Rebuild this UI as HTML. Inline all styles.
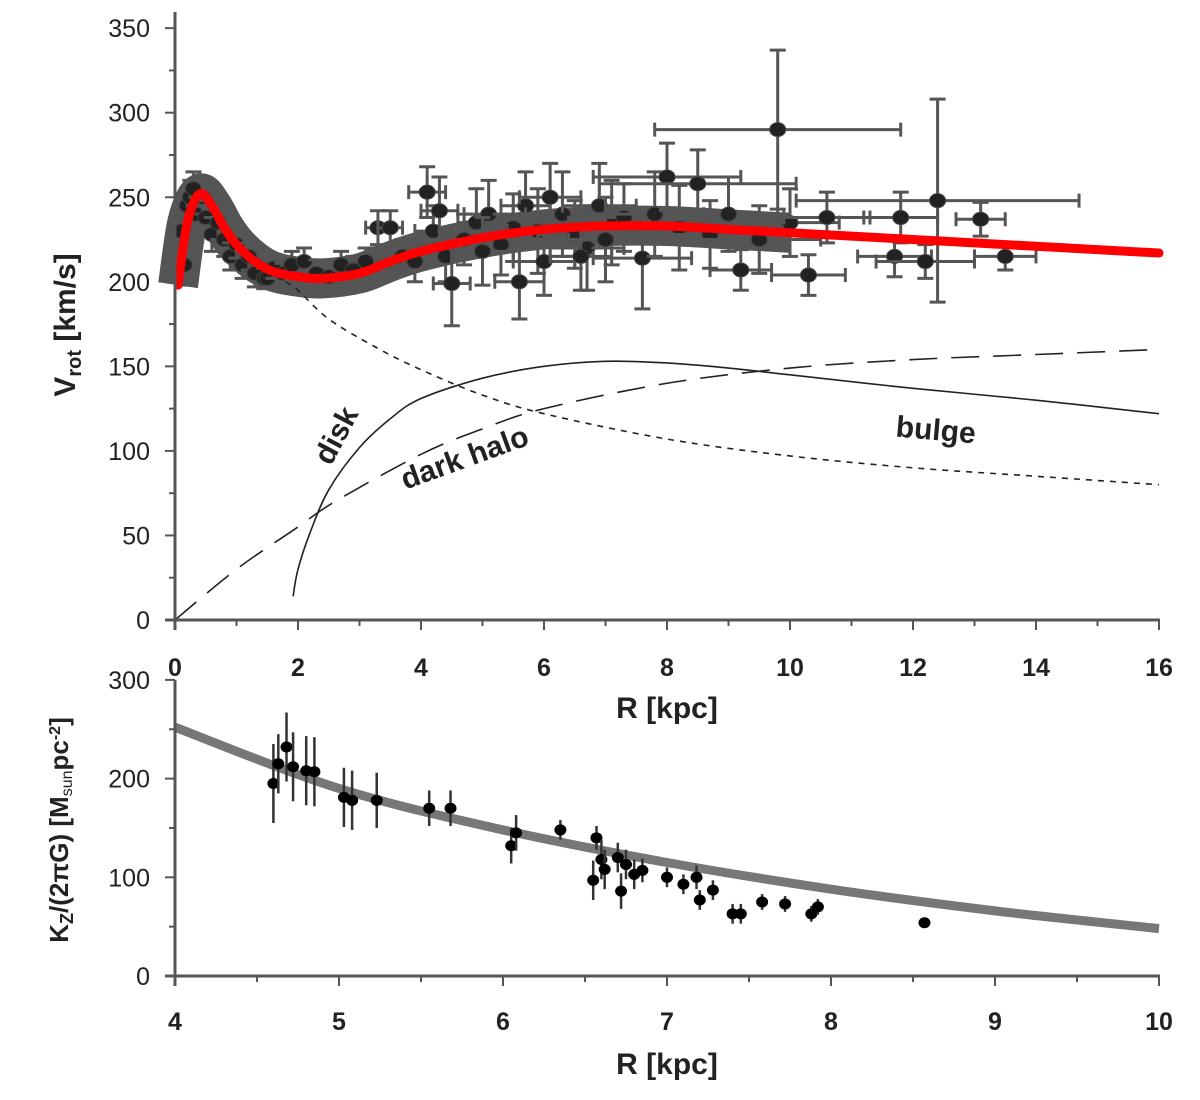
<!DOCTYPE html>
<html><head><meta charset="utf-8"><style>
html,body{margin:0;padding:0;background:#fff;}
svg{display:block;font-family:"Liberation Sans",sans-serif;}
</style></head><body>
<svg id="c" width="1200" height="1100" viewBox="0 0 1200 1100">
<text x="667" y="718" text-anchor="middle" font-size="30" font-weight="bold" fill="#222">R [kpc]</text>
<text x="667" y="1074" text-anchor="middle" font-size="30" font-weight="bold" fill="#222">R [kpc]</text>
<text transform="translate(75,325) rotate(-90)" text-anchor="middle" font-size="30" font-weight="bold" fill="#222">V<tspan font-size="20" dy="6">rot</tspan><tspan dy="-6"> [km/s]</tspan></text>
<text transform="translate(68,830) rotate(-90)" text-anchor="middle" font-size="26" font-weight="bold" fill="#222">K<tspan font-size="18" dy="5">Z</tspan><tspan dy="-5">/(2πG) [M</tspan><tspan font-size="16" dy="4" font-weight="normal">sun</tspan><tspan dy="-4">pc</tspan><tspan font-size="16" dy="-8">-2</tspan><tspan dy="8">]</tspan></text>
<text transform="translate(345,440) rotate(-62)" text-anchor="middle" font-size="30" font-weight="bold" fill="#222">disk</text>
<text transform="translate(468,467) rotate(-20)" text-anchor="middle" font-size="30" font-weight="bold" fill="#222">dark halo</text>
<text transform="translate(935,440) rotate(5)" text-anchor="middle" font-size="30" font-weight="bold" fill="#222">bulge</text>
</svg>
<script>
// ---- top panel data ----
const redR=[0.05,0.2,0.4,0.6,0.8,1.0,1.3,1.6,2.0,2.4,3.0,3.5,4,5,6,7,8,9,10,12,14,16];
const redV=[198,235,252,245,232,222,212,206,203,202,205,212,218,226,231,233,233,231,229,225,221,217];
const bulgeR=[1.8,2,2.5,3.28,4,5,6,8,10,12,14,16];
const bulgeV=[200,195,178,161,148,133,122,107,97,90,85,80];
const diskR=[1.92,2.0,2.2,2.5,3,3.5,4,5,6,7,8,9,10,12,14,16];
const diskV=[14,30,52,77,102,119,131,143,150,153,152,149,145,137,130,122];
const haloR=[0,1,2,2.6,4,5,6,8,10,12,14,16];
const haloV=[0,30,55,70,98,113,125,140,149,154,157,160];
const ptR=[0.1,0.15,0.2,0.25,0.3,0.35,0.45,0.5,0.6,0.7,0.8,0.9,1.0,1.1,1.2,1.3,1.45,1.5,1.6,1.75,1.9,2.1,2.3,2.5,2.7,2.9,3.1,3.3,3.5,3.7,3.9,4.1,4.2,4.4,4.5,4.7,4.9,5.1,5.3,5.5,5.7,5.9,6.1,6.3,6.5,6.7,6.9,7.1,7.3,7.6,7.8,8.0,8.2,8.5,8.7,9.0,9.2,9.5,9.8,10.0,10.3,10.6,11.7,11.8,12.2,12.4,13.1,13.5,5.0,6.0,7.0,4.3,5.6,6.6];
const ptV=[230,210,245,250,255,240,250,238,228,235,225,215,222,210,215,205,202,202,208,205,210,212,205,203,210,207,212,232,232,215,212,253,230,215,199,225,235,240,222,232,245,230,250,240,228,220,245,235,238,214,240,262,232,258,228,240,207,225,290,235,204,238,215,238,212,248,237,215,218,212,225,242,200,215];
const ptE=[12,12,10,10,10,10,10,10,10,10,10,8,8,8,8,8,6,6,6,6,8,8,8,8,8,8,8,10,10,10,12,15,15,15,25,15,20,20,18,20,20,25,20,25,20,25,25,25,20,30,25,20,25,20,20,22,12,20,47,20,12,15,12,15,10,60,10,8,20,20,25,20,22,20];
const ptX=[0,0,0,0,0,0,0,0,0,0,0,0,0,0,0,0,0,0,0,0,0,0,0,0,0,0,0,0.2,0.2,0.2,0.2,0.3,0.3,0.3,0.3,0.3,0.3,0.4,0.4,0.4,0.4,0.5,0.5,0.6,0.6,0.6,0.6,0.7,0.7,0.8,0.8,1.2,0.8,1.6,0.7,0.8,0.5,1.0,2.0,0.8,0.6,0.7,0.6,0.6,0.8,2.3,0.4,0.5,0.5,0.5,0.6,0.3,0.4,0.5];
// ---- bottom panel data ----
const kR=[4,5,6,7,8,9,10];
const kV=[252,190,148,115,88,66,48];
const bR=[4.6,4.63,4.68,4.72,4.8,4.85,5.03,5.08,5.23,5.55,5.68,6.05,6.08,6.35,6.55,6.57,6.6,6.62,6.7,6.72,6.75,6.8,6.85,7.0,7.1,7.18,7.2,7.28,7.4,7.45,7.58,7.72,7.88,7.92,8.57];
const bV=[195,215,232,212,208,207,181,178,178,170,170,132,145,148,97,140,118,108,120,86,113,103,107,100,93,100,77,87,63,63,75,73,63,70,54];
const bE=[40,30,35,35,35,35,30,30,28,18,18,18,18,10,20,12,20,20,15,18,15,15,12,10,10,12,10,10,10,10,8,8,8,8,5];
const xTop=[0,2,4,6,8,10,12,14,16], yTop=[0,50,100,150,200,250,300,350];
const xBot=[4,5,6,7,8,9,10], yBot=[0,100,200,300];

const NS="http://www.w3.org/2000/svg", svg=document.getElementById('c');
function el(t,a,p){const e=document.createElementNS(NS,t);for(const k in a)e.setAttribute(k,a[k]);(p||svg).appendChild(e);return e;}
const X1=r=>175+r*61.5, Y1=v=>620-v*1.691;
const X2=r=>175+(r-4)*164, Y2=v=>976-v*0.987;
function smooth(xs,ys,fx,fy){const p=xs.map((r,i)=>[fx(r),fy(ys[i])]);let d='M'+p[0][0]+','+p[0][1];for(let i=0;i<p.length-1;i++){const p0=p[i-1]||p[i],p1=p[i],p2=p[i+1],p3=p[i+2]||p2;d+=` C${p1[0]+(p2[0]-p0[0])/6},${p1[1]+(p2[1]-p0[1])/6} ${p2[0]-(p3[0]-p1[0])/6},${p2[1]-(p3[1]-p1[1])/6} ${p2[0]},${p2[1]}`;}return d;}
const ax='#555';
// dense band
const band=el('path',{d:smooth(redR.slice(0,19),redV.slice(0,19),X1,Y1),stroke:'#555','stroke-width':40,fill:'none','stroke-linecap':'butt'});


// top points
const gP=el('g',{});


ptR.forEach((r,i)=>{
  const x=X1(r),y=Y1(ptV[i]),e=ptE[i]*1.691,xe=ptX[i]*61.5;
  const g=el('g',{stroke:'#555','stroke-width':3},gP);
  
  
  el('line',{x1:x,y1:y-e,x2:x,y2:y+e},g);
  el('line',{x1:x-8,y1:y-e,x2:x+8,y2:y-e},g);el('line',{x1:x-8,y1:y+e,x2:x+8,y2:y+e},g);
  if(xe>0){el('line',{x1:x-xe,y1:y,x2:x+xe,y2:y},g);el('line',{x1:x-xe,y1:y-7,x2:x-xe,y2:y+7},g);el('line',{x1:x+xe,y1:y-7,x2:x+xe,y2:y+7},g);}
  el('ellipse',{cx:x,cy:y,rx:8,ry:7,fill:'#222',stroke:'#444','stroke-width':1},g);
});
// component curves
let c=el('path',{d:smooth(bulgeR,bulgeV,X1,Y1),stroke:'#222','stroke-width':1.6,fill:'none','stroke-dasharray':'6,6'});

c=el('path',{d:smooth(diskR,diskV,X1,Y1),stroke:'#222','stroke-width':1.6,fill:'none'});

c=el('path',{d:smooth(haloR,haloV,X1,Y1),stroke:'#222','stroke-width':1.6,fill:'none','stroke-dasharray':'28,14'});

c=el('path',{d:smooth(redR,redV,X1,Y1),stroke:'#ff0000','stroke-width':9,fill:'none','stroke-linecap':'round'});

// top axes
el('line',{x1:175,y1:12,x2:175,y2:630,stroke:ax,'stroke-width':3});
el('line',{x1:165,y1:620,x2:1160,y2:620,stroke:ax,'stroke-width':3});
for(let v=0;v<=350;v+=25){el('line',{x1:v%50?169:165,y1:Y1(v),x2:175,y2:Y1(v),stroke:ax,'stroke-width':2});}
for(let r=0;r<=16;r++){el('line',{x1:X1(r),y1:620,x2:X1(r),y2:r%2?626:630,stroke:ax,'stroke-width':2});}
yTop.forEach(v=>{const t=el('text',{x:150,y:Y1(v)+9,'text-anchor':'end','font-size':25,fill:'#222'});t.textContent=v;});
xTop.forEach(r=>{const t=el('text',{x:X1(r),y:676,'text-anchor':'middle','font-size':25,'font-weight':'bold',fill:'#222'});t.textContent=r;});
// bottom
c=el('path',{d:smooth(kR,kV,X2,Y2),stroke:'#777','stroke-width':9,fill:'none'});

bR.forEach((r,i)=>{const x=X2(r),y=Y2(bV[i]),e=bE[i]*0.987;
  const g=el('g',{stroke:'#333','stroke-width':2.5});
  
  el('line',{x1:x,y1:y-e,x2:x,y2:y+e},g);
  el('ellipse',{cx:x,cy:y,rx:6,ry:5.5,fill:'#000',stroke:'none'},g);});
el('line',{x1:175,y1:680,x2:175,y2:986,stroke:ax,'stroke-width':3});
el('line',{x1:165,y1:976,x2:1160,y2:976,stroke:ax,'stroke-width':3});
for(let v=0;v<=300;v+=50){el('line',{x1:v%100?169:165,y1:Y2(v),x2:175,y2:Y2(v),stroke:ax,'stroke-width':2});}
for(let r=4;r<=10;r+=0.5){el('line',{x1:X2(r),y1:976,x2:X2(r),y2:r%1?982:986,stroke:ax,'stroke-width':2});}
yBot.forEach(v=>{const t=el('text',{x:150,y:Y2(v)+9,'text-anchor':'end','font-size':25,fill:'#222'});t.textContent=v;});
xBot.forEach(r=>{const t=el('text',{x:X2(r),y:1030,'text-anchor':'middle','font-size':25,'font-weight':'bold',fill:'#222'});t.textContent=r;});
</script>
</body></html>
